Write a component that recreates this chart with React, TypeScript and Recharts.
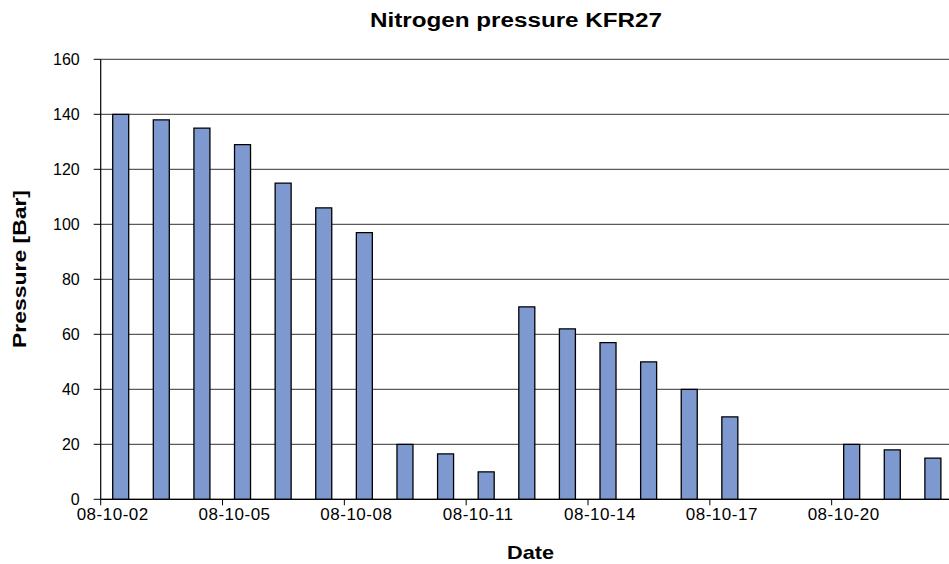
import React from 'react';
import { BarChart, Bar, XAxis, YAxis, CartesianGrid } from 'recharts';

const dates = [
  '08-10-02', '08-10-03', '08-10-04', '08-10-05', '08-10-06', '08-10-07', '08-10-08',
  '08-10-09', '08-10-10', '08-10-11', '08-10-12', '08-10-13', '08-10-14', '08-10-15',
  '08-10-16', '08-10-17', '08-10-18', '08-10-19', '08-10-20', '08-10-21', '08-10-22',
];
const pressure: (number | null)[] = [
  140, 138, 135, 129, 115, 106, 97, 20, 16.5, 10, 70, 62, 57, 50, 40, 30, null, null, 20, 18, 15,
];
const dateTicks = [0, 3, 6, 9, 12, 15, 18];
const pressureTicks = [0, 20, 40, 60, 80, 100, 120, 140, 160];

// day index at the middle of each day, so ticks fall on day boundaries
const data = dates.map((d, i) => ({ day: i + 0.5, date: d, pressure: pressure[i] }));

const FONT = '"Liberation Sans", Arial, sans-serif';

function DateTick(props: any) {
  const { x, y, payload } = props;
  return (
    <text x={x + 12} y={y} dy={13} textAnchor="middle" fontFamily={FONT} fontSize={17}
      letterSpacing={0.5} fill="#000">
      {dates[payload.value]}
    </text>
  );
}

export default function App() {
  return (
    <div style={{ position: 'absolute', left: 0, top: 0, width: 949, height: 564, overflow: 'hidden', background: '#fff' }}>
      <BarChart
        width={960}
        height={564}
        data={data}
        margin={{ top: 59.3, right: 6.5, left: 0, bottom: 24.7 }}
      >
        <CartesianGrid horizontal vertical={false} stroke="#333" strokeWidth={1} />
        <XAxis
          type="number"
          dataKey="day"
          domain={[0, 21]}
          ticks={dateTicks}
          interval={0}
          height={40}
          tickSize={6}
          tickMargin={2}
          axisLine={{ stroke: '#000', strokeWidth: 1.2 }}
          tickLine={{ stroke: '#000' }}
          tick={<DateTick />}
        />
        <YAxis
          type="number"
          domain={[0, 160]}
          ticks={pressureTicks}
          interval={0}
          width={100.7}
          tickSize={7}
          tickMargin={14}
          axisLine={{ stroke: '#000', strokeWidth: 1.2 }}
          tickLine={{ stroke: '#000' }}
          tick={{ fontFamily: FONT, fontSize: 16, fill: '#000' }}
        />
        <Bar
          dataKey="pressure"
          barSize={16}
          fill="#7E98D0"
          stroke="#000"
          strokeWidth={1.3}
          isAnimationActive={false}
        />
      </BarChart>
      <svg width={949} height={564} style={{ position: 'absolute', left: 0, top: 0, pointerEvents: 'none' }}>
        <text x={516} y={27} textAnchor="middle" fontFamily={FONT} fontWeight="bold" fontSize={20}
          textLength={292} lengthAdjust="spacingAndGlyphs">
          Nitrogen pressure KFR27
        </text>
        <text x={530.5} y={559} textAnchor="middle" fontFamily={FONT} fontWeight="bold" fontSize={19}
          textLength={47} lengthAdjust="spacingAndGlyphs">
          Date
        </text>
        <text x={26} y={269} transform="rotate(-90 26 269)" textAnchor="middle" fontFamily={FONT}
          fontWeight="bold" fontSize={19} textLength={158} lengthAdjust="spacingAndGlyphs">
          Pressure [Bar]
        </text>
      </svg>
    </div>
  );
}
